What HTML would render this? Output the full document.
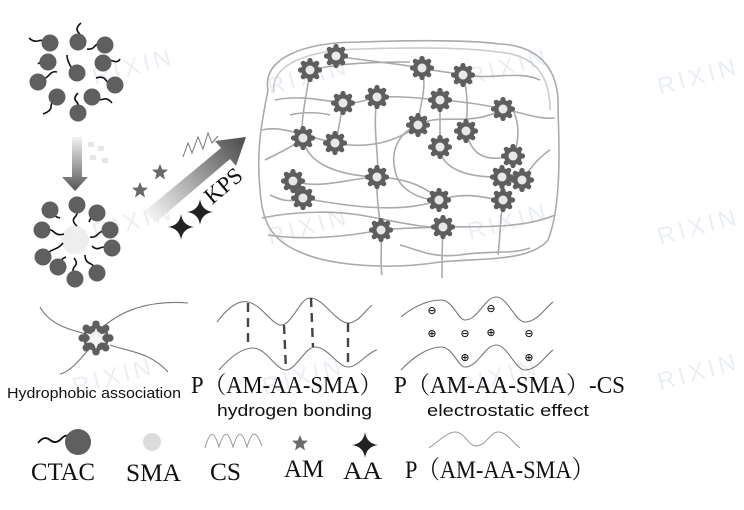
<!DOCTYPE html>
<html><head><meta charset="utf-8"><style>
html,body{margin:0;padding:0;background:#fff;}
svg{display:block}
.ser{font-family:"Liberation Serif","Noto Serif CJK SC",serif;fill:#111}
.san{font-family:"Liberation Sans",sans-serif;fill:#111}
.wm{font-family:"Liberation Sans",sans-serif;fill:#c4cfe2;opacity:.35;font-size:24px;letter-spacing:4px}
</style></head><body>
<svg width="744" height="510" viewBox="0 0 744 510" xmlns="http://www.w3.org/2000/svg">
<defs>
<g id="gear">
<circle r="9" fill="#5e5e5e"/>
<circle cx="0" cy="-9.5" r="2.6" fill="#5e5e5e"/><circle cx="0" cy="9.5" r="2.6" fill="#5e5e5e"/>
<circle cx="-9.5" cy="0" r="2.6" fill="#5e5e5e"/><circle cx="9.5" cy="0" r="2.6" fill="#5e5e5e"/>
<circle cx="6.7" cy="6.7" r="2.6" fill="#5e5e5e"/><circle cx="-6.7" cy="6.7" r="2.6" fill="#5e5e5e"/>
<circle cx="6.7" cy="-6.7" r="2.6" fill="#5e5e5e"/><circle cx="-6.7" cy="-6.7" r="2.6" fill="#5e5e5e"/>
<circle r="4.5" fill="#e8e8e8"/>
</g>
<linearGradient id="gd" x1="0" y1="0" x2="0" y2="1"><stop offset="0" stop-color="#f2f2f2"/><stop offset="1" stop-color="#555"/></linearGradient>
<linearGradient id="gdiag" x1="150" y1="217" x2="243" y2="140" gradientUnits="userSpaceOnUse"><stop offset="0" stop-color="#f4f4f4"/><stop offset="1" stop-color="#505050"/></linearGradient>
<path id="star" d="M0,-8 L2.3,-2.5 8,-2.3 3.5,1.5 5,7.5 0,4 -5,7.5 -3.5,1.5 -8,-2.3 -2.3,-2.5Z" fill="#6a6a6a"/>
<path id="spark" d="M0,-13 Q1.5,-1.5 13,0 Q1.5,1.5 0,13 Q-1.5,1.5 -13,0 Q-1.5,-1.5 0,-13Z" fill="#222"/>
</defs>

<g class="wm">
<text x="95" y="85" transform="rotate(-15 95 85)">RIXIN</text>
<text x="270" y="95" transform="rotate(-15 270 95)">RIXIN</text>
<text x="470" y="85" transform="rotate(-15 470 85)">RIXIN</text>
<text x="660" y="95" transform="rotate(-15 660 95)">RIXIN</text>
<text x="95" y="240" transform="rotate(-15 95 240)">RIXIN</text>
<text x="270" y="245" transform="rotate(-15 270 245)">RIXIN</text>
<text x="470" y="240" transform="rotate(-15 470 240)">RIXIN</text>
<text x="660" y="245" transform="rotate(-15 660 245)">RIXIN</text>
<text x="75" y="395" transform="rotate(-15 75 395)">RIXIN</text>
<text x="265" y="395" transform="rotate(-15 265 395)">RIXIN</text>
<text x="460" y="395" transform="rotate(-15 460 395)">RIXIN</text>
<text x="660" y="390" transform="rotate(-15 660 390)">RIXIN</text>
</g>

<g stroke="#111" stroke-width="1.6" fill="none">
<path d="M78,42 q4,-6 0,-10 q-3,-4 3,-9"/>
<path d="M50,43 q-6,-4 -12,-2 q-5,1 -9,-3"/>
<path d="M105,45 q-6,-4 -10,1 q-3,4 -8,3"/>
<path d="M48,62 q-6,-2 -10,2"/>
<path d="M77,73 q-6,-4 -8,-10 q-2,-4 -2,-8"/>
<path d="M103,63 q6,-4 10,-2 q5,2 7,-2"/>
<path d="M38,82 q8,-3 12,-8 q3,-3 7,-2"/>
<path d="M115,85 q-8,-2 -10,-6 q-3,-3 -9,-1"/>
<path d="M57,97 q-6,4 -6,10 q0,4 -8,7"/>
<path d="M92,97 q6,4 12,2 q4,-1 8,4"/>
<path d="M78,113 q2,-8 -2,-12 q-3,-3 2,-8"/>
</g>
<g fill="#5f5f5f">
<circle cx="50" cy="43" r="8.5"/><circle cx="78" cy="42" r="8.5"/><circle cx="105" cy="45" r="8.5"/>
<circle cx="48" cy="62" r="8.5"/><circle cx="77" cy="73" r="8.5"/><circle cx="103" cy="63" r="8.5"/>
<circle cx="38" cy="82" r="8.5"/><circle cx="115" cy="85" r="8.5"/><circle cx="57" cy="97" r="8.5"/>
<circle cx="92" cy="97" r="8.5"/><circle cx="78" cy="113" r="8.5"/>
</g>

<path d="M72,137 H82 V177 H88 L75,191 62,177 H72Z" fill="url(#gd)"/>
<g fill="#e6e6e6"><rect x="88" y="142" width="6" height="5"/><rect x="98" y="146" width="6" height="5"/><rect x="90" y="155" width="6" height="5"/><rect x="102" y="158" width="6" height="5"/></g>

<circle cx="75" cy="240" r="14" fill="#eeeeee"/>
<g stroke="#111" stroke-width="1.6" fill="none">
<path d="M77,205 q2,8 -2,12 q-4,4 2,9"/>
<path d="M50,210 q4,7 10,8"/>
<path d="M97,213 q-6,3 -8,9"/>
<path d="M42,230 q8,-2 12,2 q4,4 10,2"/>
<path d="M110,230 q-8,0 -12,4 q-3,4 -8,3"/>
<path d="M43,257 q6,-6 12,-8 q5,-2 8,-6"/>
<path d="M112,248 q-8,-2 -12,0 q-4,2 -8,-2"/>
<path d="M58,267 q2,-8 8,-10"/>
<path d="M97,273 q-2,-8 -8,-10 q-4,-2 -4,-8"/>
<path d="M75,278 q-4,-8 0,-12 q3,-3 -1,-8"/>
</g>
<g fill="#5f5f5f">
<circle cx="50" cy="210" r="8.5"/><circle cx="77" cy="205" r="8.5"/><circle cx="97" cy="213" r="8.5"/>
<circle cx="42" cy="230" r="8.5"/><circle cx="110" cy="230" r="8.5"/><circle cx="43" cy="257" r="8.5"/>
<circle cx="112" cy="248" r="8.5"/><circle cx="58" cy="267" r="8.5"/><circle cx="97" cy="273" r="8.5"/>
<circle cx="75" cy="279" r="8.5"/>
</g>

<path d="M145,211 L221,148 L215,141 L246,137 L236,166 L230,159 L155,223Z" fill="url(#gdiag)"/>
<use href="#star" x="140" y="190"/>
<use href="#star" x="160" y="172"/>
<use href="#spark" x="181" y="227"/>
<use href="#spark" x="200" y="212"/>
<path d="M183,157 l5,-14 l4,10 l6,-16 l5,12 l5,-16 l4,10 l6,-7" stroke="#777" stroke-width="1" fill="none"/>
<text class="ser" x="0" y="0" font-size="23" transform="translate(212,205) rotate(-40)">KPS</text>

<g fill="none" stroke="#aaa" stroke-width="1.6">
<path d="M268,90 C262,60 300,42 360,42 C420,40 470,40 500,44 C540,46 560,70 558,110 C560,160 560,210 548,240 C530,262 480,258 440,262 C390,270 330,266 300,252 C270,240 262,220 260,190 C256,150 262,120 268,90Z"/>
<path d="M274,92 C270,66 305,50 360,49 C420,47 470,48 498,52 C535,55 550,75 550,110" stroke="#ccc"/>
<path d="M262,130 C280,125 300,135 335,143 C370,150 400,140 418,125 C440,112 470,128 503,109"/>
<path d="M275,100 C300,95 320,100 343,103 C360,104 370,98 377,97 C400,96 420,98 440,100 C470,102 490,106 503,109 C520,112 540,120 555,118"/>
<path d="M310,70 C330,66 350,62 410,62"/>
<path d="M336,56 C360,60 400,64 422,68 C440,72 450,72 463,75 C490,80 520,70 540,80"/>
<path d="M310,70 C306,100 300,120 303,138 C306,160 330,175 377,177 C410,178 430,190 439,200"/>
<path d="M343,103 C340,120 338,135 335,143"/>
<path d="M422,68 C428,90 418,110 418,125"/>
<path d="M440,100 C440,120 440,135 440,147 C440,165 460,178 502,177 C515,178 520,180 522,180"/>
<path d="M466,131 C470,150 480,160 500,158 C508,157 513,156 513,156"/>
<path d="M463,75 C470,100 466,120 466,131"/>
<path d="M377,97 C372,130 380,160 377,177 C376,200 380,220 381,230 C382,250 380,265 382,275"/>
<path d="M293,181 C320,190 350,178 377,177"/>
<path d="M303,198 C340,205 400,215 439,200 C470,190 490,200 503,200"/>
<path d="M262,218 C290,212 330,210 360,215 C400,222 420,228 443,227 C470,226 520,230 555,215"/>
<path d="M268,235 C300,240 340,238 381,230 C400,228 420,228 443,227"/>
<path d="M443,227 C442,245 442,260 442,278"/>
<path d="M503,200 C500,220 500,240 498,255"/>
<path d="M513,156 C520,140 520,120 510,105"/>
<path d="M265,160 C285,150 295,145 303,138"/>
<path d="M420,125 C400,130 390,150 395,170 C398,190 420,200 439,200"/>
<path d="M550,150 C535,160 530,170 522,180"/>
<path d="M290,115 C300,112 320,112 330,115"/>
<path d="M400,245 C420,250 430,258 460,255 C490,250 510,255 530,248"/>
<path d="M270,195 C280,200 290,203 303,198"/>
</g>
<g>
<use href="#gear" x="310" y="70"/><use href="#gear" x="336" y="56"/><use href="#gear" x="422" y="68"/>
<use href="#gear" x="463" y="75"/><use href="#gear" x="343" y="103"/><use href="#gear" x="377" y="97"/>
<use href="#gear" x="440" y="100"/><use href="#gear" x="503" y="109"/><use href="#gear" x="303" y="138"/>
<use href="#gear" x="335" y="143"/><use href="#gear" x="418" y="125"/><use href="#gear" x="466" y="131"/>
<use href="#gear" x="440" y="147"/><use href="#gear" x="513" y="156"/><use href="#gear" x="377" y="177"/>
<use href="#gear" x="293" y="181"/><use href="#gear" x="303" y="198"/><use href="#gear" x="502" y="177"/>
<use href="#gear" x="522" y="180"/><use href="#gear" x="439" y="200"/><use href="#gear" x="503" y="200"/>
<use href="#gear" x="381" y="230"/><use href="#gear" x="443" y="227"/>
</g>

<g fill="none" stroke="#777" stroke-width="1.1">
<path d="M40,307 C50,325 70,330 90,335"/>
<path d="M100,330 C120,310 150,300 188,303"/>
<path d="M110,345 C130,352 150,352 168,372"/>
<path d="M92,345 C80,360 70,372 60,374"/>
</g>
<g transform="translate(96,338) scale(1.45)"><use href="#gear"/></g>
<path d="M96,328 l3,7 7,-2 -5,5 5,5 -7,-1 -3,7 -3,-7 -7,1 5,-5 -5,-5 7,2Z" fill="#f2f2f2"/>
<text class="san" x="7" y="398" font-size="15" textLength="174" lengthAdjust="spacingAndGlyphs">Hydrophobic association</text>

<g fill="none" stroke="#777" stroke-width="1.1">
<path d="M217,322 C230,305 240,300 248,302 C262,305 272,325 281,325 C292,325 300,298 310,298 C324,298 335,322 348,323 C358,323 366,310 372,305"/>
<path d="M219,370 C232,355 243,348 253,348 C266,348 276,370 286,370 C296,370 305,347 315,347 C328,347 338,367 348,367 C358,367 368,352 377,350"/>
</g>
<g stroke="#444" stroke-width="2.4" stroke-dasharray="9,6">
<line x1="248" y1="303" x2="248" y2="348"/><line x1="284" y1="325" x2="286" y2="370"/>
<line x1="311" y1="298" x2="313" y2="347"/><line x1="348" y1="323" x2="348" y2="367"/>
</g>
<text class="ser" x="191" y="393" font-size="24" textLength="191" lengthAdjust="spacingAndGlyphs">P（AM-AA-SMA）</text>
<text class="san" x="217" y="416" font-size="17" textLength="155" lengthAdjust="spacingAndGlyphs">hydrogen bonding</text>

<g fill="none" stroke="#777" stroke-width="1.1">
<path d="M401,317 C415,305 430,300 441,300 C453,300 458,320 465,320 C478,320 485,297 496,297 C508,297 515,322 525,322 C537,322 545,308 553,302"/>
<path d="M401,370 C415,355 430,347 441,347 C453,347 458,367 465,367 C478,367 485,345 496,345 C508,345 515,370 525,370 C537,370 545,356 553,350"/>
</g>
<g font-family="DejaVu Sans,sans-serif" font-size="11" fill="#222" text-anchor="middle" font-weight="bold">
<text x="432" y="314">⊖</text><text x="491" y="312">⊖</text>
<text x="432" y="337">⊕</text><text x="465" y="337">⊖</text><text x="491" y="336">⊕</text><text x="529" y="337">⊖</text>
<text x="465" y="361">⊕</text><text x="529" y="361">⊕</text>
</g>
<text class="ser" x="394" y="393" font-size="24" textLength="231" lengthAdjust="spacingAndGlyphs">P（AM-AA-SMA）-CS</text>
<text class="san" x="427" y="416" font-size="17" textLength="162" lengthAdjust="spacingAndGlyphs">electrostatic effect</text>

<path d="M38,443 q6,-8 12,-3 q6,5 12,-2 q4,-4 8,-1" fill="none" stroke="#111" stroke-width="1.8"/>
<circle cx="78" cy="442" r="13" fill="#5f5f5f"/>
<circle cx="152" cy="442" r="9" fill="#dcdcdc"/>
<path d="M205,448 C210,430 214,430 219,447 C224,430 228,430 233,447 C238,430 242,430 247,447 C252,430 256,430 262,446" fill="none" stroke="#999" stroke-width="1"/>
<use href="#star" x="300" y="443"/>
<use href="#spark" x="365" y="445"/>
<path d="M429,448 C440,440 448,432 455,432 C465,432 468,446 476,446 C486,446 490,432 498,432 C507,432 512,442 520,448" fill="none" stroke="#999" stroke-width="1"/>
<g class="ser" font-size="25">
<text x="31" y="480" textLength="64" lengthAdjust="spacingAndGlyphs">CTAC</text>
<text x="126" y="481" textLength="55" lengthAdjust="spacingAndGlyphs">SMA</text>
<text x="210" y="480" textLength="31" lengthAdjust="spacingAndGlyphs">CS</text>
<text x="284" y="477" textLength="40" lengthAdjust="spacingAndGlyphs">AM</text>
<text x="343" y="479" textLength="39" lengthAdjust="spacingAndGlyphs">AA</text>
<text x="405" y="478" textLength="189" lengthAdjust="spacingAndGlyphs">P（AM-AA-SMA）</text>
</g>
</svg>
</body></html>
